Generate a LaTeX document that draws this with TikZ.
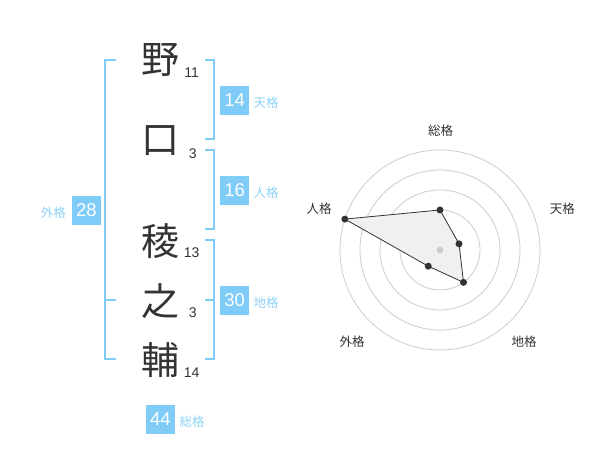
\documentclass[tikz,border=0pt]{standalone}
\usepackage{fontspec}
\setmainfont{Liberation Sans}
\newfontfamily\jp{Noto Sans CJK JP}
\definecolor{sky}{HTML}{7FCCF8}
\definecolor{skytext}{HTML}{8ED2F7}
\definecolor{ink}{HTML}{333333}
\begin{document}
\begin{tikzpicture}[x=1pt,y=-1pt,
 kanji/.style={font=\jp\fontsize{38}{38}\selectfont, text=ink, inner sep=0},
 strokes/.style={font=\fontsize{14}{14}\selectfont, text=ink, inner sep=0},
 valbox/.style={fill=sky, text=white, font=\fontsize{18.5}{18.5}\selectfont, minimum width=29pt, minimum height=29pt, inner sep=0},
 kaku/.style={font=\jp\fontsize{12.5}{12.5}\selectfont, text=skytext, inner sep=0},
 bracket/.style={draw=sky, line width=2pt},
 ring/.style={draw=black!20, line width=0.8pt},
 axislabel/.style={font=\jp\fontsize{12.5}{12.5}\selectfont, text=ink, inner sep=0},
 dot/.style={circle, fill=ink, inner sep=0, minimum size=7pt},
]
\useasboundingbox (0,0) rectangle (600,470);
% name column
\node[kanji] (k1) at (160,60) {野};
\node[kanji] (k2) at (160,141) {口};
\node[kanji] (k3) at (160,241) {稜};
\node[kanji] (k4) at (160,301) {之};
\node[kanji] (k5) at (160,360) {輔};
\node[strokes] (s1) at (191.7,72.5) {11};
\node[strokes] (s2) at (192.7,153.5) {3};
\node[strokes] (s3) at (191.7,252.5) {13};
\node[strokes] (s4) at (192.7,312.5) {3};
\node[strokes] (s5) at (191.7,372.5) {14};
% brackets
\draw[bracket] (116,60) -- (105,60) -- (105,359) -- (116,359);
\draw[bracket] (105,300) -- (116,300);
\draw[bracket] (205,60) -- (214,60) -- (214,139) -- (205,139);
\draw[bracket] (205,150) -- (214,150) -- (214,229) -- (205,229);
\draw[bracket] (205,240) -- (214,240) -- (214,359) -- (205,359);
\draw[bracket] (205,300) -- (214,300);
% values
\node[valbox] (v1) at (234.7,100.3) {14};
\node[kaku] (l1) at (266,103) {天格};
\node[valbox] (v2) at (234.7,190.3) {16};
\node[kaku] (l2) at (266,193) {人格};
\node[valbox] (v3) at (234.7,300.3) {30};
\node[kaku] (l3) at (266,303) {地格};
\node[valbox] (v4) at (86.5,210.2) {28};
\node[kaku] (l4) at (53.3,213) {外格};
\node[valbox] (v5) at (160.5,419.2) {44};
\node[kaku] (l5) at (192,422) {総格};
% radar
\coordinate (c) at (440,250);
\foreach \r in {20,40,60,80,100} \draw[ring] (c) circle[radius=\r pt];
\filldraw[fill=black!6, draw=ink, line width=0.8pt]
  ([shift={(-90:40)}]c) -- ([shift={(-18:20)}]c) -- ([shift={(54:40)}]c)
  -- ([shift={(126:20)}]c) -- ([shift={(-162:100)}]c) -- cycle;
\node[circle, fill=black!20, inner sep=0, minimum size=7pt] (cd) at (c) {};
\node[dot] (p1) at ([shift={(-90:40)}]c) {};
\node[dot] (p2) at ([shift={(-18:20)}]c) {};
\node[dot] (p3) at ([shift={(54:40)}]c) {};
\node[dot] (p4) at ([shift={(126:20)}]c) {};
\node[dot] (p5) at ([shift={(-162:100)}]c) {};
\node[axislabel] (a1) at (440.7,130.7) {総格};
\node[axislabel] (a2) at (562.3,208.7) {天格};
\node[axislabel] (a3) at (524,342) {地格};
\node[axislabel] (a4) at (352,342) {外格};
\node[axislabel] (a5) at (319,208.7) {人格};
\end{tikzpicture}
\end{document}
